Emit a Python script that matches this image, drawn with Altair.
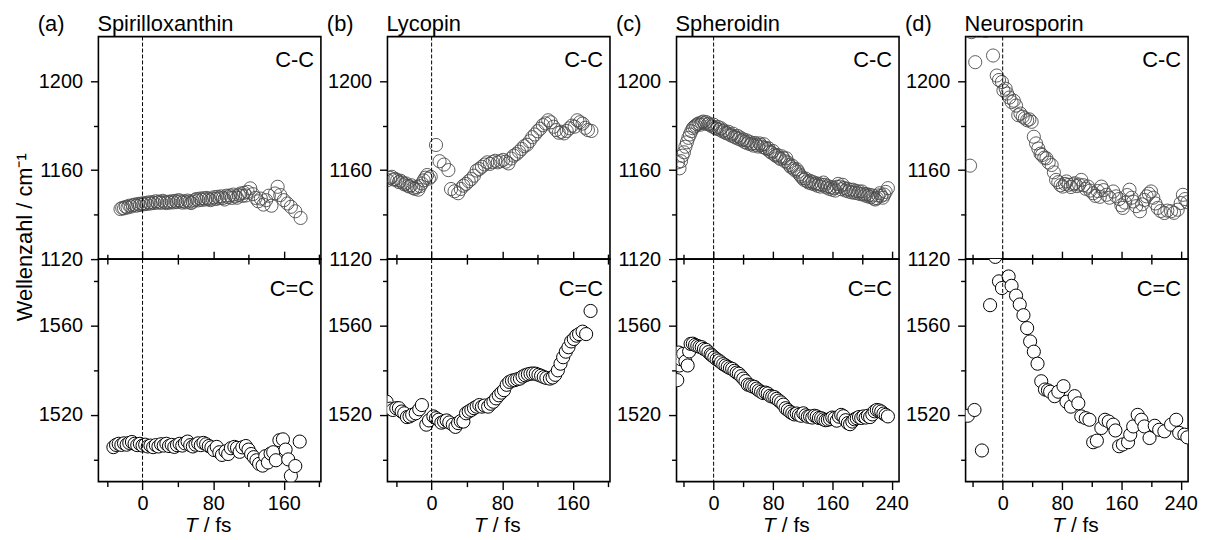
import altair as alt
import pandas as pd

FONT = "Liberation Sans"

# ---------------- data ----------------
A_CC_T = [-25,-23,-21,-19,-17,-15,-13,-11,-9,-7,-5,-3,-1,1,3,5,7,9,11,13,15,17,19,21,23,25,27,29,31,33,35,37,39,41,43,45,47,49,51,53,55,57,59,61,63,65,67,69,71,73,75,77,79,81,83,85,87,89,91,93,95,97,99,101,103,105,107,109,111,113,115,117,119,122,125,128,131,134,137,140,143,146,150,153,156,160,164,168,173,179]
A_CC_V = [1142.5,1143,1142.8,1143.5,1143.2,1144,1143.6,1144.2,1144.5,1144,1144.8,1144.3,1145,1144.6,1145.2,1144.8,1145.5,1145,1145.6,1145.2,1146,1145.4,1145.8,1145.3,1146.2,1145.6,1145.2,1145.8,1145.4,1146,1145.5,1146.2,1145.6,1146.5,1146,1145.4,1146,1145.5,1146.3,1145.8,1145.2,1145.8,1146.5,1147,1146.4,1147.2,1146.6,1147.4,1146.8,1147.5,1147,1146.5,1147.2,1147.8,1147,1148,1147.4,1148.2,1147.5,1146.8,1148.5,1147.8,1148.6,1147.5,1149,1148.2,1147.6,1148.8,1149.5,1148.4,1149.8,1148.6,1150.2,1151.8,1149.2,1147.5,1146,1147.2,1144.5,1146.5,1148.5,1144,1149.5,1152.5,1148.8,1146.5,1145,1143.5,1141.5,1138.5]

A_CE_T = [-33,-30,-27,-24,-21,-18,-15,-12,-9,-6,-3,0,3,6,9,12,15,18,21,24,27,30,33,36,39,42,45,48,51,54,57,60,63,66,69,72,75,78,81,84,87,90,94,97,100,104,107,110,113,117,120,123,126,129,132,136,139,142,145,148,151,155,159,162,165,168,173,178]
A_CE_V = [1505.5,1506.5,1507,1506.5,1507.2,1506.6,1507.4,1507.8,1507,1506.4,1507,1506.2,1506.6,1505.8,1506.2,1505.5,1506.4,1505.8,1506.8,1506.2,1507,1506,1506.5,1505.6,1506.4,1507,1506.2,1507.2,1508,1506.4,1505.8,1506.6,1507.2,1506.4,1507.4,1506.8,1506,1505.4,1504.2,1505.6,1503.2,1502,1503.6,1502.4,1505,1505.6,1505.2,1503.4,1505.4,1506,1504.4,1502.4,1501,1499.6,1498,1497.2,1501.4,1498.6,1502.6,1503.2,1499.6,1508.6,1509,1504.4,1500,1492.6,1497,1508]

B_CC_T = [-50,-47,-45,-43,-41,-39,-37,-35,-33,-31,-29,-27,-25,-23,-21,-19,-17,-15,-13,-11,-9,-7,-5,-3,-1,5,9,14,19,22,26,30,33,36,39,42,45,48,51,54,57,60,63,66,69,72,75,78,81,84,87,90,93,96,99,102,105,108,111,114,117,120,123,126,129,132,135,138,141,144,147,150,153,156,159,162,165,168,171,174,177,181]
B_CC_V = [1155.5,1156.5,1157,1155.8,1156,1155.4,1154.6,1155.2,1154.4,1153.6,1154,1153,1152.6,1153.2,1152,1151.6,1152.4,1151.2,1152.8,1154,1155.4,1156.6,1157.8,1156.2,1157,1171.3,1164,1162.5,1160,1151.5,1150.5,1149.6,1151.5,1153,1153.8,1155,1156,1157.5,1159.8,1160.5,1161.5,1162.5,1163.5,1162.8,1163.6,1164.2,1163.5,1164,1164.6,1163.8,1163,1165.2,1166.5,1167.2,1168.3,1169.5,1170.8,1171.4,1173,1174.8,1176,1177.5,1178.6,1180.2,1181,1182.4,1181.5,1179.5,1178,1176.8,1177.2,1176.5,1177.6,1178.8,1180,1179.5,1182.4,1181.5,1180.9,1179,1178,1177.6]

B_CE_T = [-51,-47,-44,-40,-37,-34,-31,-28,-25,-22,-18,-14,-11,-6,-3,2,5,8,11,14,17,20,24,27,30,33,36,39,42,45,48,51,54,57,60,64,67,70,73,76,79,82,85,88,91,94,97,100,103,106,109,112,115,118,121,124,127,130,134,137,140,143,146,149,152,155,158,161,164,167,171,175,180]
B_CE_V = [1525.9,1522.8,1522.2,1523,1523,1521.5,1520.7,1519,1519.3,1520,1520.7,1522.5,1524.4,1515.6,1517.5,1519.3,1518.5,1517.8,1516.5,1517,1517.5,1516.6,1515.6,1514.6,1516.3,1517.2,1517,1520.7,1521.5,1522.2,1523,1523.7,1524.4,1523.7,1524.2,1523.7,1525,1525.9,1527.4,1528.8,1530,1531.1,1533.5,1534.8,1535.4,1535.6,1536,1536.3,1537.2,1537.8,1538.2,1538.5,1538.6,1538.5,1538,1537.6,1537,1536.6,1536.3,1536.8,1538,1540,1543,1545.9,1548.4,1550.4,1553,1554.1,1555.6,1556.3,1557.4,1556.3,1566.7]

C_CC_T = [-48,-46,-44,-42,-40,-38,-36,-34,-32,-30,-28,-26,-24,-22,-20,-18,-16,-14,-12,-10,-8,-6,-4,-2,0,2,4,6,8,10,12,14,16,18,20,22,24,26,28,30,32,34,36,38,40,42,44,46,48,50,52,54,56,58,60,62,64,66,68,70,72,74,76,78,80,82,84,86,88,90,92,94,96,98,100,102,104,106,108,110,112,114,116,118,120,122,124,126,128,130,132,134,136,138,140,142,144,146,148,150,152,154,156,158,160,162,164,166,168,170,172,174,176,178,180,182,184,186,188,190,192,194,196,198,200,202,204,206,208,210,212,214,216,218,220,222,224,226,228,230,232,235]
C_CC_V = [1163.5,1160.8,1164,1166.5,1168,1170.5,1172.5,1174.5,1176,1177.5,1178.8,1179.5,1180,1180.6,1181,1180.4,1181.4,1181.8,1181,1181.6,1180.6,1180.9,1180.2,1179.6,1180.4,1179,1178.6,1179.4,1178.2,1178.8,1177.4,1177.8,1176.8,1176.5,1177.2,1176,1175.5,1176.4,1175,1174.6,1175.4,1174,1174.6,1173.4,1173.8,1172.6,1173.4,1172,1172.8,1171.6,1172,1171,1172.2,1171.4,1170.6,1172,1171.2,1170.4,1171.6,1170,1169.4,1169.8,1168.4,1167.8,1168.6,1167,1166.4,1166.8,1165.6,1165,1166.2,1165.4,1164,1165.3,1163.4,1162.3,1161.4,1162,1160.6,1159.8,1160.4,1159.3,1158,1157.2,1156.4,1155.6,1156.2,1155,1154.4,1155.2,1154,1154.6,1153.6,1154.1,1153,1153.8,1152.6,1153.4,1154.4,1153.4,1152.2,1152.8,1151.6,1152.4,1151.2,1151.9,1150.8,1152.5,1153.8,1152.6,1151.4,1153.4,1152,1150.8,1151.6,1150.4,1151.2,1150,1151.2,1149.8,1150.6,1149.6,1150.4,1149.2,1150.4,1149.4,1148.6,1149.2,1148.2,1148.9,1147.8,1148.6,1147.2,1146.8,1147.4,1148.6,1149.6,1148.4,1147.6,1149,1150.2,1151.9]

C_CE_T = [-49,-47,-46,-44,-41,-38,-35,-33,-31,-28,-25,-22,-19,-16,-13,-10,-7,-4,-2,1,4,7,10,13,16,19,22,25,28,31,34,37,40,43,46,49,52,55,58,61,64,67,70,73,76,79,82,85,88,91,94,97,100,103,106,109,112,115,118,121,124,127,130,133,136,139,142,145,148,151,154,157,160,163,166,169,172,175,178,181,184,187,190,193,196,199,202,205,208,211,214,217,220,223,226,229,232,235]
C_CE_V = [1535.6,1548,1542.2,1545,1547.4,1544,1542.2,1548.5,1551.9,1552,1551.4,1551,1550.6,1550.4,1549.6,1549.2,1548.2,1547.2,1546.7,1545.8,1545,1544.4,1543.6,1542.8,1542.2,1541.6,1541,1540.7,1539.8,1539,1538.5,1537.4,1536.3,1535.2,1533.6,1533.3,1532.8,1532.6,1531.8,1531,1530.4,1529.8,1530,1529.6,1528.6,1528.2,1528,1527.2,1526.4,1525.6,1524.6,1523,1522.2,1521.4,1520.7,1520.2,1520.6,1520,1519.6,1520.7,1519.8,1519.2,1519.3,1518.8,1519.6,1519.3,1518.6,1518.5,1518,1517.6,1517.8,1518.2,1518.8,1518.5,1517.4,1519.2,1520,1519.4,1517.6,1516.3,1515.8,1517,1518,1518.5,1519,1518.6,1519.3,1518.8,1519.6,1519,1520.2,1521.6,1522.2,1522,1521.5,1520.6,1520,1519.3]

D_CC_T = [-44,-42,-37,-23,-13,-8,-5,-1,1,4,6,9,12,15,18,21,24,27,30,33,36,39,42,45,48,51,53,56,59,62,66,69,72,75,78,81,84,86,89,92,95,97,100,103,106,109,112,115,118,122,125,128,131,133,136,140,144,149,153,157,160,162,165,168,171,174,176,180,185,188,191,194,197,200,203,206,209,213,218,222,227,231,236,240,243,246,249]
D_CC_V = [1162,1222,1208.5,1222.5,1211.5,1202.5,1200.5,1199.6,1195.8,1196.6,1194.4,1192.6,1190.6,1191.2,1189,1184.7,1185.4,1184,1183.3,1182.4,1182.8,1181.7,1175,1172,1169.7,1167.4,1166.8,1165.6,1165.3,1163.4,1162.3,1159,1155.6,1154.6,1153.2,1152.6,1153.8,1154.9,1153.4,1152.4,1153.6,1154.1,1152.8,1153.5,1155.6,1153.2,1151.6,1152.6,1150.8,1149.6,1148.4,1150.6,1148,1152.6,1151,1148.9,1147.6,1150.4,1148.2,1147,1144.2,1143,1145.4,1148.8,1151.2,1147.6,1145.9,1143.8,1141.5,1144.6,1146.6,1148.2,1149.4,1150.4,1147.6,1145,1143,1141.6,1140.7,1141.8,1141.5,1140.8,1142.2,1145.2,1148.9,1147,1145.6]

D_CE_T = [-47,-38,-28,-17,-10,-5,-1,8,12,18,23,28,33,37,42,47,52,57,61,64,70,75,82,86,92,97,102,106,112,117,122,127,133,138,143,149,152,157,162,169,172,176,182,187,191,198,205,211,218,227,234,238,245,249]
D_CE_V = [1519.6,1522.2,1504,1569.3,1591,1580,1577,1582.2,1578,1573.6,1569.6,1564.8,1559,1553,1548.4,1543,1535.1,1531.4,1531,1530.4,1528.4,1530.4,1532.9,1525.9,1523.7,1528.4,1525.2,1519.3,1518.5,1517.8,1507.7,1508.4,1514.1,1517.8,1517,1515.6,1513,1505.9,1506.7,1507.7,1511.1,1514.8,1520,1517.8,1514.8,1509.6,1515.1,1513.3,1512.6,1515.6,1517.8,1511.9,1511.1,1509.9]

PANELS = [
    ("(a)", "Spirilloxanthin", [-50, 202], A_CC_T, A_CC_V, A_CE_T, A_CE_V),
    ("(b)", "Lycopin", [-50, 202], B_CC_T, B_CC_V, B_CE_T, B_CE_V),
    ("(c)", "Spheroidin", [-50, 250], C_CC_T, C_CC_V, C_CE_T, C_CE_V),
    ("(d)", "Neurosporin", [-50, 250], D_CC_T, D_CC_V, D_CE_T, D_CE_V),
]
TOP_DOMAIN = [1120, 1220]
BOT_DOMAIN = [1490, 1590]
TOP_YTICKS = [1120, 1140, 1160, 1180, 1200]
BOT_YTICKS = [1500, 1520, 1540, 1560, 1580]
XTICKS_ALL = [-40, 0, 40, 80, 120, 160, 200, 240]

W = 224
H = 224


def xticks(dom):
    return [v for v in XTICKS_ALL if dom[0] <= v <= dom[1]]


def x_axis(dom, orient, labels):
    return alt.Axis(
        values=xticks(dom), orient=orient, labels=labels, title=None, format="d",
        labelExpr="datum.value % 80 === 0 ? datum.label : ''",
        tickSize={"condition": {"test": "datum.value % 80 === 0", "value": 8}, "value": 5},
        domain=False, grid=False, labelOverlap=False, labelFlush=False, labelPadding=4,
    )


def y_axis(values, base):
    test = f"(datum.value - {base}) % 40 === 0"
    return alt.Axis(
        values=values, orient="left", title=None, format="d",
        labelExpr=f"{test} ? datum.label : ''",
        tickSize={"condition": {"test": test, "value": 8}, "value": 5},
        domain=False, grid=False, labelOverlap=False, labelFlush=False, labelPadding=8,
    )


def text_layer(s, x, y, **kw):
    return alt.Chart(pd.DataFrame({"s": [s]})).mark_text(font=FONT, color="black", **kw).encode(
        text="s:N", x=alt.value(x), y=alt.value(y))


tops = []
bots = []
for i, (tag, name, xdom, cct, ccv, cet, cev) in enumerate(PANELS):
    xs = alt.Scale(domain=xdom, nice=False, zero=False)
    # top panel (C-C)
    pts_top = alt.Chart(pd.DataFrame({"T": cct, "V": ccv})).mark_point(
        shape="circle", filled=False, size=175, strokeWidth=0.9, color="#4a4a4a", opacity=1, clip=True
    ).encode(
        x=alt.X("T:Q", scale=xs, axis=x_axis(xdom, "bottom", False)),
        y=alt.Y("V:Q", scale=alt.Scale(domain=TOP_DOMAIN, nice=False, zero=False), axis=y_axis(TOP_YTICKS, 1120)),
    )
    rule_top = alt.Chart(pd.DataFrame({"x": [0]})).mark_rule(
        strokeDash=[4, 2], strokeWidth=1, color="black").encode(x=alt.X("x:Q", scale=xs))
    top_layers = [pts_top, rule_top,
                  text_layer(tag, -61, -6, fontSize=22, align="left", baseline="alphabetic"),
                  text_layer(name, -1, -6, fontSize=22, align="left", baseline="alphabetic"),
                  text_layer("C-C", W - 7, 31, fontSize=22, align="right", baseline="alphabetic")]
    if i == 0:
        top_layers.append(text_layer("Wellenzahl / cm\u207b\u00b9", -74, 202, fontSize=22, angle=270,
                                     align="center", baseline="middle"))
    tops.append(alt.layer(*top_layers).properties(width=W, height=H))

    # bottom panel (C=C)
    pts_bot = alt.Chart(pd.DataFrame({"T": cet, "V": cev})).mark_circle(
        size=175, fill="white", stroke="black", strokeWidth=1, opacity=1, clip=True
    ).encode(
        x=alt.X("T:Q", scale=xs, axis=x_axis(xdom, "bottom", True)),
        y=alt.Y("V:Q", scale=alt.Scale(domain=BOT_DOMAIN, nice=False, zero=False), axis=y_axis(BOT_YTICKS, 1520)),
    )
    rule_bot = alt.Chart(pd.DataFrame({"x": [0]})).mark_rule(
        strokeDash=[4, 2], strokeWidth=1, color="black").encode(
        x=alt.X("x:Q", scale=xs, axis=x_axis(xdom, "top", False)))
    bots.append(alt.layer(
        pts_bot, rule_bot,
        text_layer("C=C", W - 7, 37, fontSize=22, align="right", baseline="alphabetic"),
        text_layer("T", 100, H + 51, fontSize=21, align="right", baseline="alphabetic", fontStyle="italic"),
        text_layer("/ fs", 106, H + 51, fontSize=21, align="left", baseline="alphabetic"),
    ).resolve_axis(x="independent").properties(width=W, height=H))

chart = alt.concat(*tops, *bots, columns=4, spacing={"row": 0, "column": 67}, bounds="flush").properties(
    padding={"left": 5, "top": 2, "right": 5, "bottom": 5}
).configure_view(stroke="black", strokeWidth=1.6).configure_axis(
    tickColor="black", tickWidth=1.4, labelFont=FONT, labelFontSize=20, labelColor="black"
)

chart.save("out.html", embed_options={"renderer": "svg", "actions": False})
